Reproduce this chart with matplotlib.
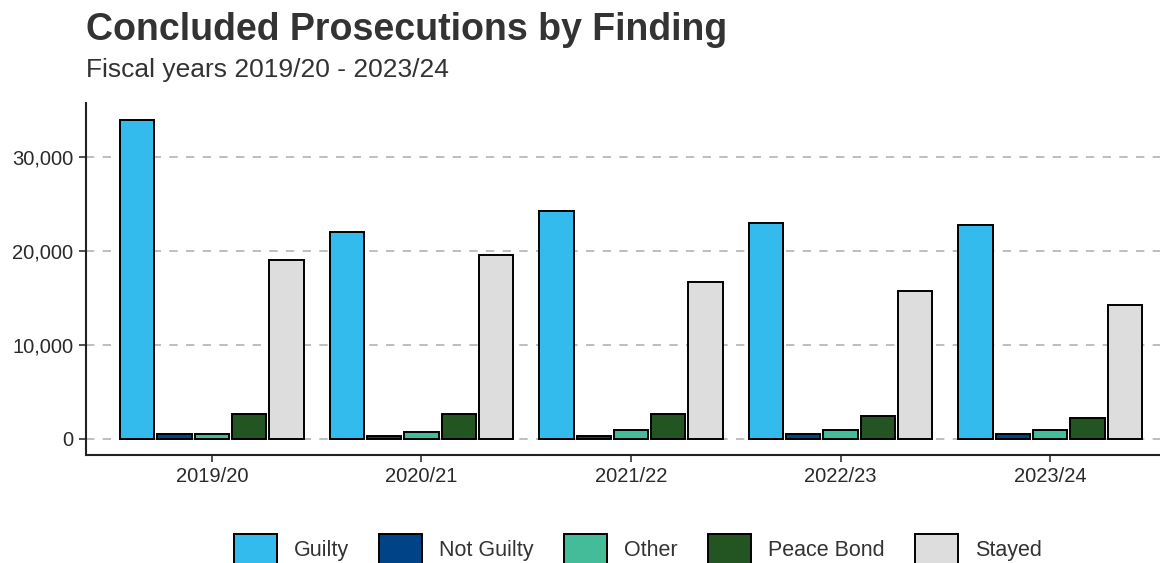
"""Concluded prosecutions by finding, grouped bars per fiscal year."""
import matplotlib

matplotlib.use("Agg")
import matplotlib.pyplot as plt  # noqa: E402
import numpy as np  # noqa: E402
from matplotlib.ticker import FuncFormatter  # noqa: E402

plt.rcParams["font.family"] = ["Liberation Sans", "DejaVu Sans"]

years = ["2019/20", "2020/21", "2021/22", "2022/23", "2023/24"]
findings = ["Guilty", "Not Guilty", "Other", "Peace Bond", "Stayed"]
guilty = [33900, 22000, 24250, 22950, 22750]
not_guilty = [550, 350, 350, 530, 530]
other = [550, 780, 950, 950, 950]
peace_bond = [2650, 2650, 2650, 2450, 2270]
stayed = [19000, 19500, 16700, 15750, 14200]
colors = ["#33BBEE", "#004488", "#44BB99", "#225522", "#DDDDDD"]

series = [guilty, not_guilty, other, peace_bond, stayed]

fig = plt.figure(figsize=(11.6, 5.63), dpi=100)
ax = fig.add_axes([86 / 1160, 1 - 455 / 563, (1176 - 86) / 1160, (455 - 103) / 563])

x = np.arange(len(years))
slot = 0.178
for i, (name, vals) in enumerate(zip(findings, series)):
    ax.bar(x + (i - 2) * slot, vals, slot * 0.92, color=colors[i],
           edgecolor="black", linewidth=1.4, label=name, zorder=3)

ax.set_xlim(-0.6, 4.6)
ax.set_ylim(-1700, 35700)
ax.set_yticks([0, 10000, 20000, 30000])
ax.yaxis.set_major_formatter(FuncFormatter(lambda v, _: f"{int(v):,}"))
ax.set_xticks(x)
ax.set_xticklabels(years)
ax.tick_params(axis="both", labelsize=14.5, length=5, width=1.2, color="#333333",
               labelcolor="#2a2a2a", pad=4)
ax.grid(axis="y", linestyle=(0, (5, 5)), color="#b3b3b3", linewidth=1.2, zorder=0)
for side in ("top", "right"):
    ax.spines[side].set_visible(False)
for side in ("left", "bottom"):
    ax.spines[side].set_linewidth(1.5)
    ax.spines[side].set_color("#222222")

fig.text(86 / 1160, 1 - 30 / 563, "Concluded Prosecutions by Finding", fontsize=27,
         fontweight="bold", color="#333333", va="center", ha="left")
fig.text(86 / 1160, 1 - 70 / 563, "Fiscal years 2019/20 - 2023/24", fontsize=19,
         color="#333333", va="center", ha="left")

fig.legend(loc="center", bbox_to_anchor=(638 / 1160, 1 - 549 / 563), ncol=5,
           frameon=False, fontsize=15.5, handlelength=2.0, handleheight=1.75,
           columnspacing=1.4, handletextpad=0.8, labelcolor="#333333")

fig.savefig("out.png", dpi=100)
plt.close(fig)
